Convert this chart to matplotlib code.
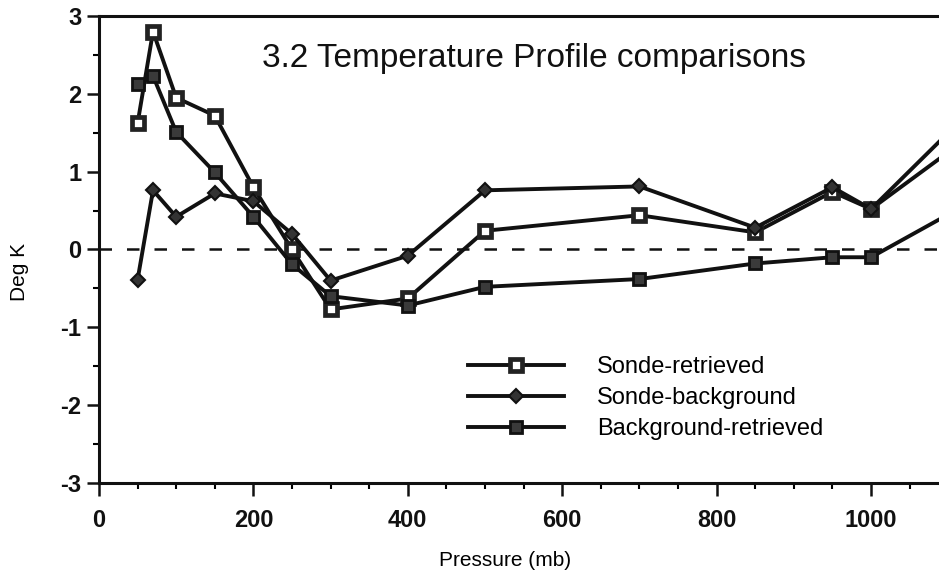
# coding: utf-8
import matplotlib
matplotlib.use('Agg')
import matplotlib.pyplot as plt
from matplotlib.ticker import MultipleLocator

plt.rcParams['font.family'] = ['Liberation Sans', 'DejaVu Sans']
plt.rcParams['axes.unicode_minus'] = False

# cisnienie (mb) - ostatni punkt wychodzi poza prawa krawedz
cisnienie = [50, 70, 100, 150, 200, 250, 300, 400, 500, 700, 850, 950, 1000, 1100]

sonda_retrieved = [1.62, 2.80, 1.95, 1.72, 0.80, 0.00, -0.77, -0.63, 0.24, 0.44, 0.22, 0.74, 0.52, 1.25]
sonda_background = [-0.39, 0.76, 0.42, 0.72, 0.62, 0.20, -0.40, -0.08, 0.76, 0.81, 0.28, 0.80, 0.52, 1.50]
background_retrieved = [2.12, 2.23, 1.51, 0.99, 0.42, -0.19, -0.60, -0.72, -0.48, -0.38, -0.18, -0.10, -0.10, 0.45]

etykiety = ['Sonde-retrieved', 'Sonde-background', 'Background-retrieved']
tytul = '3.2 Temperature Profile comparisons'

fig = plt.figure(figsize=(9.39, 5.77), dpi=100)
ax = fig.add_axes([0.1054, 0.163, 0.8946, 0.8093])

czarny = '#111111'

ax.axhline(0, color=czarny, lw=1.8, ls=(0, (5, 6)), zorder=1)

ax.plot(cisnienie, sonda_retrieved, color=czarny, lw=2.8, marker='s', ms=8,
        mfc='white', mec='#222222', mew=3.4, label=etykiety[0], zorder=3)
ax.plot(cisnienie, sonda_background, color=czarny, lw=2.8, marker='D', ms=7.5,
        mfc='#333333', mec=czarny, mew=1.5, label=etykiety[1], zorder=3)
ax.plot(cisnienie, background_retrieved, color=czarny, lw=2.8, marker='s', ms=8.5,
        mfc='#3a3a3a', mec=czarny, mew=2, label=etykiety[2], zorder=3)

ax.set_xlim(0, 1088)
ax.set_ylim(-3, 3)

ax.xaxis.set_major_locator(MultipleLocator(200))
ax.xaxis.set_minor_locator(MultipleLocator(50))
ax.yaxis.set_major_locator(MultipleLocator(1))
ax.yaxis.set_minor_locator(MultipleLocator(0.5))

ax.tick_params(which='major', direction='out', length=9, width=1.8, labelsize=17, colors=czarny)
ax.tick_params(which='minor', direction='out', length=4.5, width=1.5)
ax.tick_params(axis='x', pad=10)
for lab in ax.get_xticklabels() + ax.get_yticklabels():
    lab.set_fontweight('bold')

ax.spines['right'].set_visible(False)
for s in ['left', 'bottom', 'top']:
    ax.spines[s].set_linewidth(2.2)
    ax.spines[s].set_color(czarny)

ax.set_xlabel('Pressure (mb)', fontsize=15)
ax.xaxis.set_label_coords(0.483, -0.145)
ax.set_ylabel('Deg K', fontsize=15)
ax.yaxis.set_label_coords(-0.083, 0.452)

ax.text(211, 2.46, tytul, fontsize=24, va='center', ha='left', color=czarny)

ax.legend(loc='upper left', bbox_to_anchor=(0.439, 0.272), frameon=False,
          fontsize=17, handlelength=4.07, handletextpad=1.4, labelspacing=0.38,
          borderpad=0, borderaxespad=0)

fig.savefig('out.png', dpi=100)
